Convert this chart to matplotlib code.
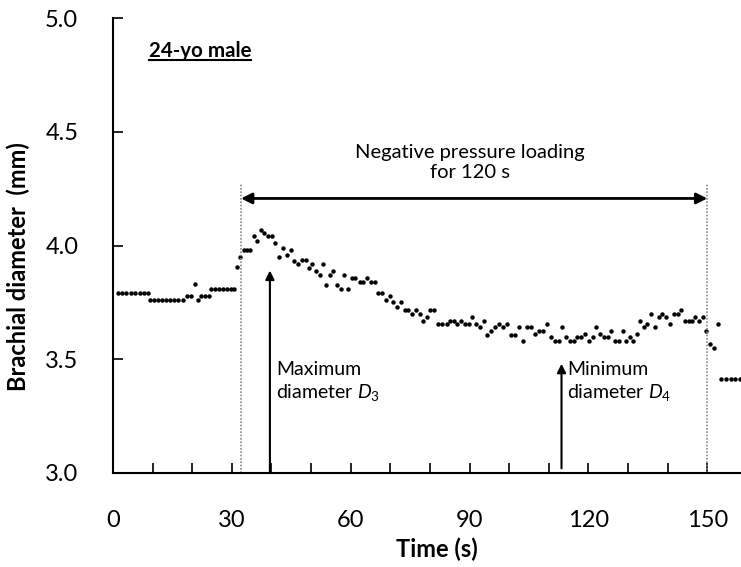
import matplotlib
matplotlib.use('Agg')
import matplotlib.pyplot as plt
from matplotlib.lines import Line2D
from matplotlib.ticker import MultipleLocator

plt.rcParams['font.family'] = ['Lato', 'DejaVu Sans']
plt.rcParams['mathtext.fontset'] = 'custom'
plt.rcParams['mathtext.rm'] = 'Lato'
plt.rcParams['mathtext.it'] = 'Lato:italic'

# brachial diameter readings (s, mm)
time = [1.3, 2.3, 3.4, 4.5, 5.6, 6.7, 7.8, 8.9,
        9.3, 10.3, 11.4, 12.4, 13.4, 14.5, 15.5, 16.5, 17.6,
        18.6, 19.6, 20.8, 21.4, 22.1, 23.1, 24.2,
        24.8, 25.8, 26.8, 27.7, 28.7, 29.7, 30.6,
        31.2, 32.1, 33.0, 33.8, 34.6, 35.5, 36.4, 37.3, 38.1, 39.1,
        40.1, 41.0, 41.9, 42.9, 43.9, 44.9, 45.7, 46.6, 47.6, 48.6,
        49.4, 50.2, 51.2, 52.2, 53.1, 53.8, 54.7, 55.6, 56.5, 57.5,
        58.3, 59.3, 60.2, 61.2, 62.3, 63.2, 64.2, 65.0, 66.0, 66.9,
        68.0, 68.9, 69.8, 70.7, 71.7, 72.7, 73.6, 74.5, 75.5, 76.5,
        77.4, 78.3, 79.3, 80.1, 81.1, 82.1, 83.1, 84.2, 85.0, 86.0,
        86.9, 87.8, 88.8, 89.8, 90.7, 91.6, 92.6, 93.6, 94.5, 95.5,
        96.5, 97.5, 98.5, 99.5, 100.4, 101.4, 102.5, 103.5, 104.5, 105.6,
        106.5, 107.5, 108.6, 109.5, 110.5, 111.5, 112.5, 113.4, 114.4, 115.3,
        116.3, 117.2, 118.2, 119.1, 120.1, 121.1, 122.0, 122.9, 123.8, 124.9,
        125.8, 126.7, 127.7, 128.6, 129.5, 130.4, 131.3, 132.3, 133.1, 133.9,
        134.9, 135.9, 136.7, 137.7, 138.6, 139.6, 140.5, 141.5, 142.5, 143.4,
        144.3, 145.3, 146.2, 147.0, 148.0, 148.9, 149.7, 150.7, 151.7, 152.6,
        153.5, 154.6, 156.0, 157.1, 158.2]
diam = [3.79, 3.79, 3.79, 3.79, 3.79, 3.79, 3.79, 3.79,
        3.76, 3.76, 3.76, 3.76, 3.76, 3.76, 3.76, 3.76, 3.76,
        3.78, 3.78, 3.83, 3.76, 3.78, 3.78, 3.78,
        3.81, 3.81, 3.81, 3.81, 3.81, 3.81, 3.81,
        3.906, 3.95, 3.98, 3.98, 3.98, 4.04, 4.02, 4.07, 4.056, 4.04,
        4.04, 4.01, 3.95, 3.99, 3.96, 3.98, 3.93, 3.92, 3.935, 3.935,
        3.90, 3.92, 3.887, 3.87, 3.92, 3.825, 3.87, 3.89, 3.825, 3.81,
        3.87, 3.81, 3.857, 3.857, 3.84, 3.84, 3.857, 3.84, 3.84, 3.79,
        3.79, 3.76, 3.78, 3.75, 3.73, 3.75, 3.715, 3.715, 3.70, 3.715,
        3.70, 3.67, 3.685, 3.715, 3.715, 3.656, 3.656, 3.656, 3.67, 3.67,
        3.656, 3.67, 3.656, 3.656, 3.686, 3.656, 3.64, 3.67, 3.608, 3.626,
        3.64, 3.656, 3.64, 3.656, 3.608, 3.608, 3.64, 3.578, 3.64, 3.64,
        3.61, 3.626, 3.626, 3.656, 3.596, 3.578, 3.578, 3.64, 3.596, 3.578,
        3.578, 3.596, 3.596, 3.61, 3.578, 3.596, 3.64, 3.61, 3.596, 3.596,
        3.626, 3.578, 3.578, 3.626, 3.578, 3.596, 3.578, 3.61, 3.67, 3.64,
        3.656, 3.70, 3.64, 3.686, 3.70, 3.686, 3.656, 3.70, 3.70, 3.717,
        3.67, 3.67, 3.67, 3.686, 3.67, 3.686, 3.626, 3.567, 3.55, 3.656,
        3.413, 3.413, 3.413, 3.413, 3.413]

load_start = 32.3
load_end = 150.0
d3_time = 39.6
d4_time = 113.2

fig = plt.figure(figsize=(7.41, 5.67), dpi=100)
ax = fig.add_axes([0.1525, 0.166, 0.8475, 0.802])

ax.plot(time, diam, 'o', color='black', ms=3.2, mec='none')

# loading period
for x in (load_start, load_end):
    ax.plot([x, x], [3.0, 4.27], ls=(0, (1, 1)), color='#888888', lw=1.2)
ax.annotate('', xy=(load_start, 4.207), xytext=(load_end, 4.207),
            arrowprops=dict(arrowstyle='<|-|>', color='black', lw=2,
                            mutation_scale=16, shrinkA=0, shrinkB=0))
ax.text((load_start + load_end) / 2 - 1, 4.285, 'Negative pressure loading\nfor 120 s',
        ha='center', va='bottom', fontsize=14.5, linespacing=1.2)

# D3 / D4 arrows
ax.annotate('', xy=(d3_time, 3.89), xytext=(d3_time, 3.0),
            arrowprops=dict(arrowstyle='-|>', color='black', lw=1.5,
                            mutation_scale=13, shrinkA=0, shrinkB=0))
ax.annotate('', xy=(d4_time, 3.48), xytext=(d4_time, 3.02),
            arrowprops=dict(arrowstyle='-|>', color='black', lw=1.5,
                            mutation_scale=13, shrinkA=0, shrinkB=0))
ax.text(d3_time + 1.5, 3.49, 'Maximum\ndiameter $D_3$', ha='left', va='top',
        fontsize=14, linespacing=1.25)
ax.text(d4_time + 1.5, 3.49, 'Minimum\ndiameter $D_4$', ha='left', va='top',
        fontsize=14, linespacing=1.25)

lbl = ax.text(9.0, 4.855, '24-yo male', ha='left', va='center',
              fontsize=14.8, fontweight='bold')

ax.set_xlim(0, 158.5)
ax.set_ylim(3.0, 5.0)
ax.xaxis.set_major_locator(MultipleLocator(30))
ax.xaxis.set_minor_locator(MultipleLocator(10))
ax.yaxis.set_major_locator(MultipleLocator(0.5))
ax.yaxis.set_major_formatter(matplotlib.ticker.FormatStrFormatter('%.1f'))
ax.tick_params(axis='both', which='both', direction='in', length=7, width=1.2,
               labelsize=17)
ax.tick_params(axis='x', pad=27)
ax.tick_params(axis='y', pad=25)
for s in ('top', 'right'):
    ax.spines[s].set_visible(False)
for s in ('left', 'bottom'):
    ax.spines[s].set_linewidth(1.5)

ax.set_xlabel('Time (s)', fontsize=17, fontweight='bold')
ax.set_ylabel('Brachial diameter  (mm)', fontsize=17, fontweight='bold')
ax.xaxis.set_label_coords(0.516, -0.142)
ax.yaxis.set_label_coords(-0.132, 0.453)

# underline the subject label
fig.canvas.draw()
bb = lbl.get_window_extent().transformed(ax.transAxes.inverted())
ax.add_line(Line2D([bb.x0, bb.x1], [bb.y0 + 0.002, bb.y0 + 0.002], transform=ax.transAxes,
                   color='black', lw=1.5))

fig.savefig('out.png', dpi=100)
